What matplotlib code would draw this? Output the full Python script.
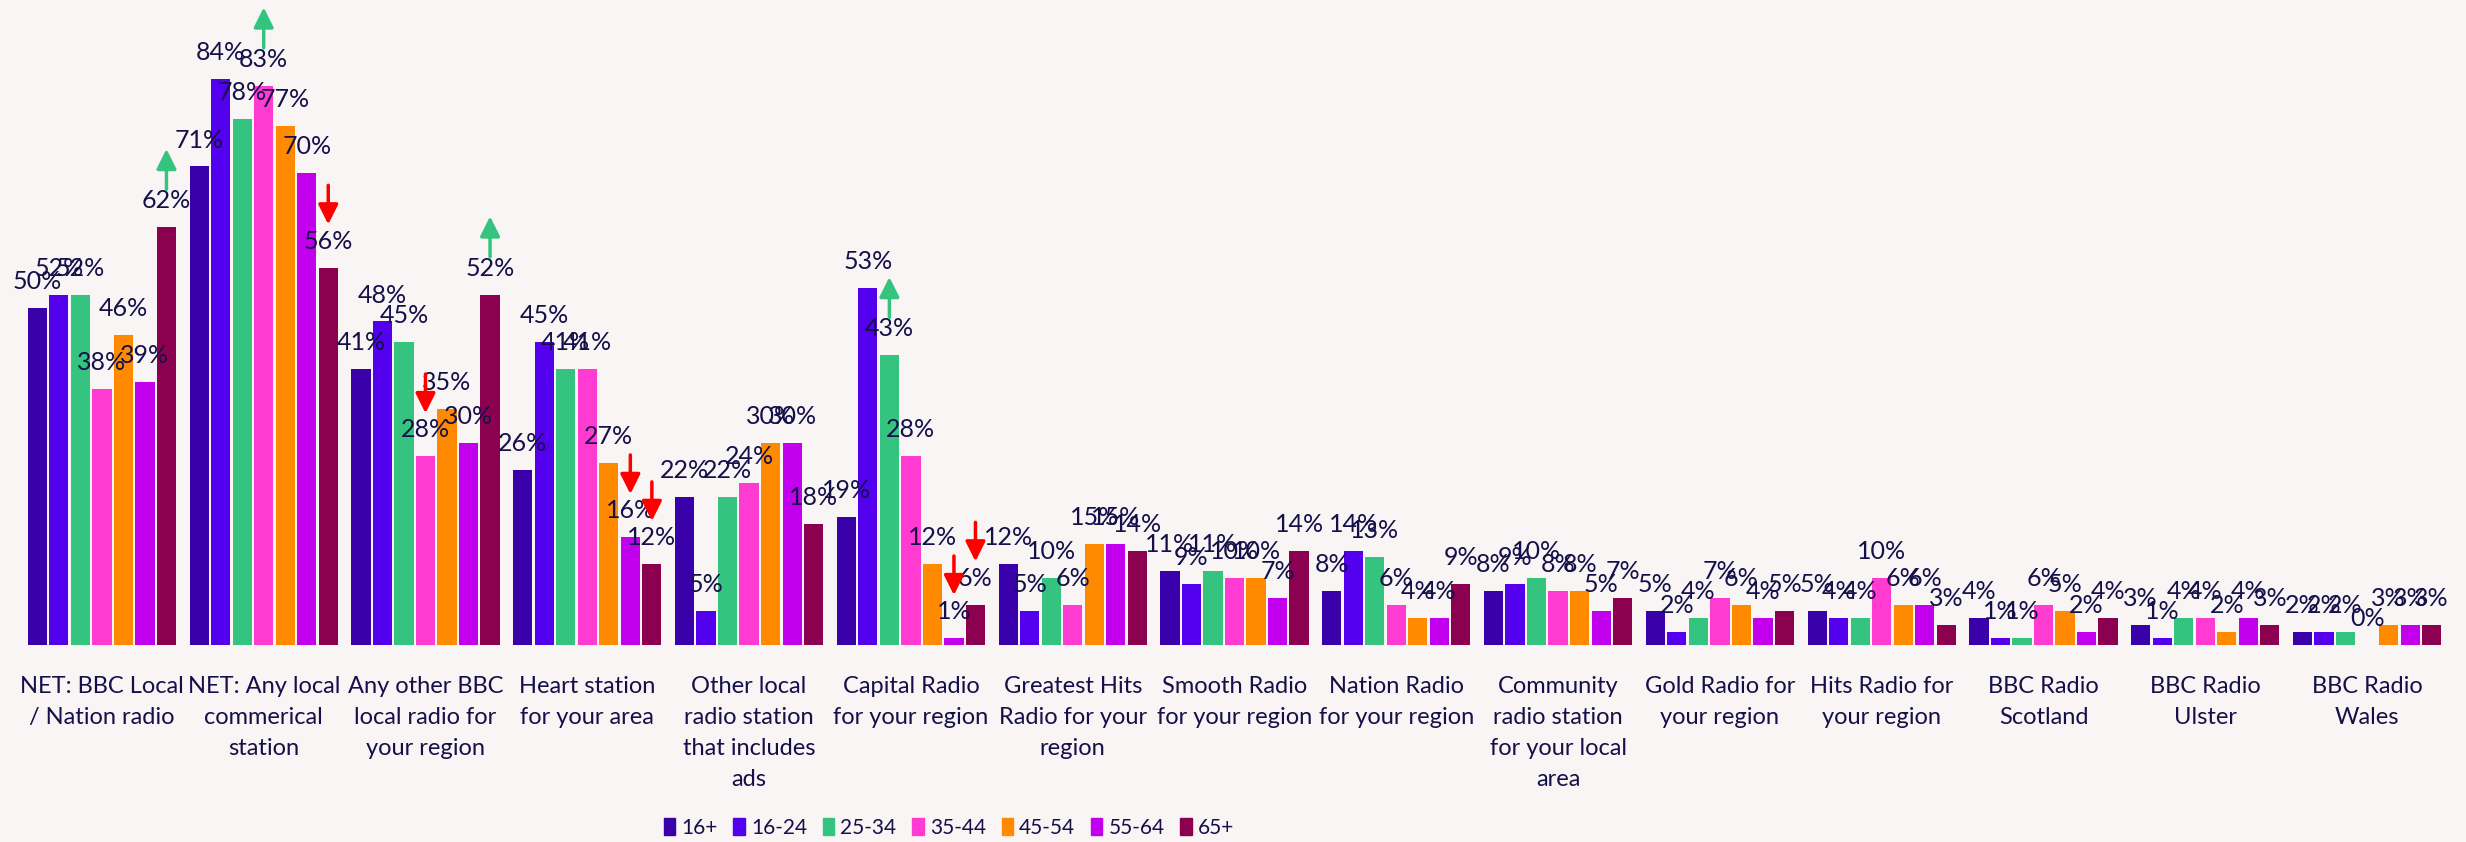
import numpy as np
import matplotlib.pyplot as plt
from matplotlib.patches import Patch

plt.rcParams['font.family'] = ['Lato', 'DejaVu Sans']

categories = ["NET: BBC Local\n/ Nation radio",
              "NET: Any local\ncommerical\nstation",
              "Any other BBC\nlocal radio for\nyour region",
              "Heart station\nfor your area",
              "Other local\nradio station\nthat includes\nads",
              "Capital Radio\nfor your region",
              "Greatest Hits\nRadio for your\nregion",
              "Smooth Radio\nfor your region",
              "Nation Radio\nfor your region",
              "Community\nradio station\nfor your local\narea",
              "Gold Radio for\nyour region",
              "Hits Radio for\nyour region",
              "BBC Radio\nScotland",
              "BBC Radio\nUlster",
              "BBC Radio\nWales"]

ages = ["16+", "16-24", "25-34", "35-44", "45-54", "55-64", "65+"]

v_16plus = [50, 71, 41, 26, 22, 19, 12, 11, 8, 8, 5, 5, 4, 3, 2]
v_16_24 = [52, 84, 48, 45, 5, 53, 5, 9, 14, 9, 2, 4, 1, 1, 2]
v_25_34 = [52, 78, 45, 41, 22, 43, 10, 11, 13, 10, 4, 4, 1, 4, 2]
v_35_44 = [38, 83, 28, 41, 24, 28, 6, 10, 6, 8, 7, 10, 6, 4, 0]
v_45_54 = [46, 77, 35, 27, 30, 12, 15, 10, 4, 8, 6, 6, 5, 2, 3]
v_55_64 = [39, 70, 30, 16, 30, 1, 15, 7, 4, 5, 4, 6, 2, 4, 3]
v_65plus = [62, 56, 52, 12, 18, 6, 14, 14, 9, 7, 5, 3, 4, 3, 3]
series = [v_16plus, v_16_24, v_25_34, v_35_44, v_45_54, v_55_64, v_65plus]

# significant differences: (category index, age index)
sig_up = [(0, 6), (1, 3), (2, 6), (5, 2)]
sig_down = [(1, 6), (2, 3), (3, 5), (3, 6), (5, 5), (5, 6)]

colors = ['#3A00AA', '#5200EE', '#34C47F', '#FF3BD2', '#FF8A00', '#C200EE', '#8C0050']
text_col = '#13104A'
bg = '#F9F5F4'
green = '#34C47F'
red = '#FF0000'

fig = plt.figure(figsize=(24.66, 8.42), dpi=100, facecolor=bg)
ax = fig.add_axes([21/2466, (842-645)/842, (2448-21)/2466, 645/842])
ax.set_facecolor(bg)

x = np.arange(len(categories))
slot = 0.133
width = 0.119

for i, vals in enumerate(series):
    pos = x + (i - 3) * slot
    ax.bar(pos, vals, width, color=colors[i], label=ages[i])
    for p, v in zip(pos, vals):
        ax.annotate(f"{v}%", (p, v), xytext=(0, 19), textcoords='offset points',
                    ha='center', va='center', fontsize=18, color=text_col)

for c, a in sig_up:
    p = c + (a - 3) * slot
    v = series[a][c]
    ax.annotate('', xy=(p, v + 11.6), xytext=(p, v + 5.6),
                arrowprops=dict(arrowstyle='-|>', color=green, lw=2.5,
                                mutation_scale=30, shrinkA=0, shrinkB=0))
for c, a in sig_down:
    p = c + (a - 3) * slot
    v = series[a][c]
    ax.annotate('', xy=(p, v + 6.4), xytext=(p, v + 12.2),
                arrowprops=dict(arrowstyle='-|>', color=red, lw=2.5,
                                mutation_scale=30, shrinkA=0, shrinkB=0))

ax.set_xlim(-0.5, len(categories) - 0.5)
ax.set_ylim(0, 95.7)
ax.set_xticks(x)
ax.set_xticklabels(categories, fontsize=17, color=text_col, linespacing=1.6)
ax.tick_params(axis='x', length=0, pad=22)
ax.set_yticks([])
for s in ax.spines.values():
    s.set_visible(False)

handles = [Patch(color=c) for c in colors]
fig.legend(handles, ages, loc='center', bbox_to_anchor=(949/2466, 14/842),
           ncol=7, frameon=False, fontsize=15, labelcolor=text_col,
           handlelength=0.55, handleheight=0.9, handletextpad=0.3,
           columnspacing=0.75)

fig.savefig('out.png', dpi=100, facecolor=bg)
